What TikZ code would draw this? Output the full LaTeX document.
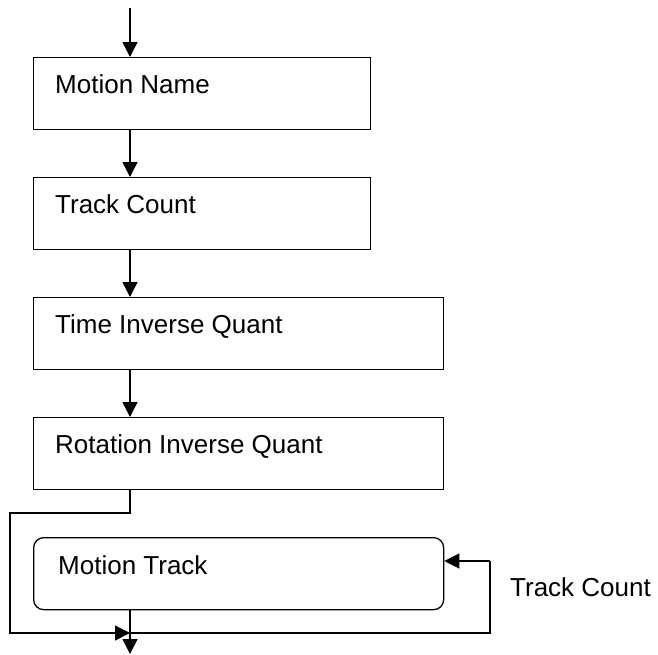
\documentclass[tikz,border=0pt]{standalone}
\usepackage{fontspec}
\setmainfont{Liberation Sans}
\usetikzlibrary{arrows.meta}
\begin{document}
\begin{tikzpicture}[x=1pt,y=-1pt,
  box/.style={draw,line width=1.3pt,inner sep=0pt,anchor=north west},
  rbox/.style={box,rounded corners=10pt},
  txt/.style={anchor=base west,inner sep=0pt,font=\fontsize{26}{30}\selectfont},
  conn/.style={line width=1.3pt,-{Triangle[length=15pt,width=15pt]}},
  wire/.style={line width=1.3pt}]
\useasboundingbox (0,0) rectangle (658,654);
\coordinate (ax) at (130,0);
\coordinate (start) at (130,8);
\node[box,minimum width=337pt,minimum height=72pt] (b1) at (33,57) {};
\node[box,minimum width=337pt,minimum height=72pt] (b2) at (33,177) {};
\node[box,minimum width=410pt,minimum height=72pt] (b3) at (33,297) {};
\node[box,minimum width=410pt,minimum height=72pt] (b4) at (33,417) {};
\node[rbox,minimum width=410pt,minimum height=72pt] (b5) at (33,537) {};
\node[txt] (t1) at (55,93) {Motion Name};
\node[txt] (t2) at (55,213) {Track Count};
\node[txt] (t3) at (55,333) {Time Inverse Quant};
\node[txt] (t4) at (55,453) {Rotation Inverse Quant};
\node[txt] (t5) at (58,574) {Motion Track};
\node[txt] (t6) at (510,596) {Track Count};
\coordinate (c1) at (130,513);
\coordinate (c2) at (10,513);
\coordinate (c3) at (10,633);
\coordinate (c4) at (130,633);
\coordinate (c5) at (490,633);
\coordinate (c6) at (490,561);
\coordinate (end) at (130,654);
\draw[conn] (start) -- (b1.north -| ax);
\draw[conn] (b1.south -| ax) -- (b2.north -| ax);
\draw[conn] (b2.south -| ax) -- (b3.north -| ax);
\draw[conn] (b3.south -| ax) -- (b4.north -| ax);
\draw[conn] (b4.south -| ax) -- (c1) -- (c2) -- (c3) -- (c4);
\draw[conn] (b5.south -| ax) -- (end);
\draw[wire] (c4) -- (c5) -- (c6);
\draw[conn] (c6) -- (b5.east |- c6);
\end{tikzpicture}
\end{document}
